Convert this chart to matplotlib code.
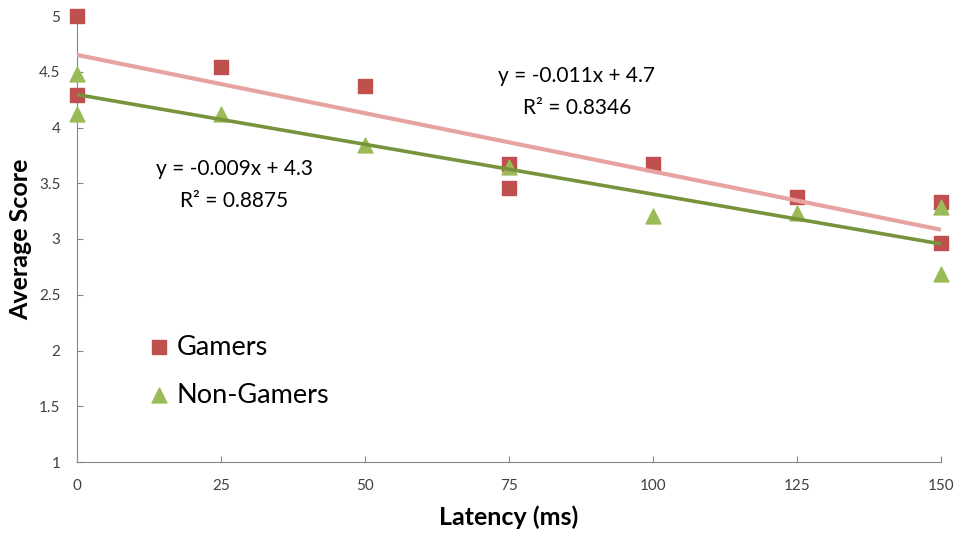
import matplotlib.pyplot as plt
import numpy as np

plt.rcParams['font.family'] = ['Lato', 'DejaVu Sans']

# latency (ms) and average scores
gamers_x = [0, 0, 25, 50, 75, 75, 100, 125, 150, 150]
gamers_y = [5.0, 4.29, 4.54, 4.37, 3.67, 3.46, 3.67, 3.38, 3.33, 2.96]
nongamers_x = [0, 0, 25, 50, 75, 100, 125, 150, 150]
nongamers_y = [4.48, 4.12, 4.12, 3.84, 3.65, 3.21, 3.23, 3.29, 2.69]

x_ticks = [0, 25, 50, 75, 100, 125, 150]
y_ticks = [1, 1.5, 2, 2.5, 3, 3.5, 4, 4.5, 5]
y_labels = ['1', '1.5', '2', '2.5', '3', '3.5', '4', '4.5', '5']

red = '#C0504D'
pink = '#E6A3A1'
green = '#9BBB59'
olive = '#77933C'
axis_grey = '#868686'

fig = plt.figure(figsize=(9.59, 5.35), dpi=100)
ax = fig.add_axes([77 / 959, 73 / 535, 864 / 959, 446 / 535])

ax.scatter(gamers_x, gamers_y, marker='s', s=95, color=red, zorder=3, label='Gamers', clip_on=False)
ax.scatter(nongamers_x, nongamers_y, marker='^', s=115, color=green, zorder=3, label='Non-Gamers', clip_on=False)

# linear trendlines
xs = np.array([0, 150])
gm, gb = np.polyfit(gamers_x, gamers_y, 1)
nm, nb = np.polyfit(nongamers_x, nongamers_y, 1)
ax.plot(xs, gm * xs + gb, color=pink, lw=3, zorder=4, solid_capstyle='butt')
ax.plot(xs, nm * xs + nb, color=olive, lw=2.6, zorder=4, solid_capstyle='butt')

ax.text(86.8, 4.32, 'y = -0.011x + 4.7\nR² = 0.8346', ha='center', va='center',
        fontsize=15, linespacing=1.75)
ax.text(27.3, 3.48, 'y = -0.009x + 4.3\nR² = 0.8875', ha='center', va='center',
        fontsize=15, linespacing=1.75)

ax.set_xlim(0, 150)
ax.set_ylim(1, 5)
ax.set_xticks(x_ticks)
ax.set_yticks(y_ticks)
ax.set_yticklabels(y_labels)
ax.tick_params(direction='in', length=4, color=axis_grey, labelsize=11, labelcolor='#404040')
ax.tick_params(axis='x', pad=12)
ax.tick_params(axis='y', pad=12)
for s in ['top', 'right']:
    ax.spines[s].set_visible(False)
for s in ['left', 'bottom']:
    ax.spines[s].set_color(axis_grey)
ax.set_xlabel('Latency (ms)', fontsize=18, fontweight='bold', labelpad=9)
ax.set_ylabel('Average Score', fontsize=18, fontweight='bold', labelpad=5)

ax.legend(loc='upper left', bbox_to_anchor=(0.062, 0.31), frameon=False, fontsize=19.5,
          handletextpad=0.0, handlelength=1.3, labelspacing=0.85, borderaxespad=0)

fig.savefig('out.png', dpi=100)
